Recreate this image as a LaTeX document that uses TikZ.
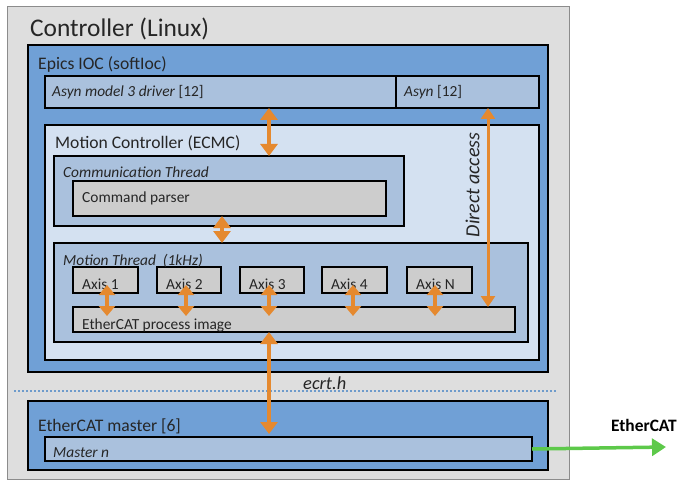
\documentclass[tikz,border=0pt]{standalone}
\usepackage{fontspec}
\setmainfont{Carlito}
\usetikzlibrary{arrows.meta,calc}
\definecolor{ctrlgray}{HTML}{DEDEDE}
\definecolor{ctrlborder}{HTML}{8C8C8C}
\definecolor{blueM}{HTML}{70A0D6}
\definecolor{blueL}{HTML}{AAC1DD}
\definecolor{blueXL}{HTML}{D4E1F1}
\definecolor{grayBox}{HTML}{CDCDCD}
\definecolor{arrOrange}{HTML}{E5892F}
\definecolor{arrGreen}{HTML}{5DC94A}
\definecolor{dotBlue}{HTML}{6E9BCB}
\newcommand\bxnode[7]{\node[bx,#2,minimum width={#5-#3},minimum height={#6-#4}] (#1) at (#3,#4) {#7};}
\tikzset{
  bx/.style={draw=black,line width=1.4pt,anchor=north west,inner sep=0pt,outer sep=0pt},
  lbl/.style={anchor=base west,inner sep=0pt,text=black!85},
  fbig/.style={font=\fontsize{17.6}{20}\selectfont},
  fsmall/.style={font=\fontsize{15.4}{18}\selectfont},
  obig/.style={draw=arrOrange,line width=4pt,{Triangle[width=17pt,length=12pt]}-{Triangle[width=17pt,length=12pt]}},
  osmall/.style={draw=arrOrange,line width=4pt,{Triangle[width=16pt,length=10pt]}-{Triangle[width=16pt,length=10pt]}},
  othin/.style={draw=arrOrange,line width=3pt,{Triangle[width=14pt,length=11pt]}-{Triangle[width=14pt,length=11pt]}},
}
\begin{document}
\begin{tikzpicture}[x=1pt,y=-1pt]
\useasboundingbox (0,0) rectangle (679,481);
\bxnode{ctrl}{fill=ctrlgray,draw=ctrlborder,line width=1pt}{7}{7}{569}{479}{}
\bxnode{epics}{fill=blueM}{28}{45}{548}{372}{}
\bxnode{asynthree}{fill=blueL}{45}{76}{396}{108}{}
\bxnode{asyn}{fill=blueL}{396}{76}{539}{108}{}
\bxnode{mc}{fill=blueXL}{45}{125}{539}{360}{}
\bxnode{comm}{fill=blueL}{54}{156}{404}{226}{}
\bxnode{cmdp}{fill=grayBox}{73}{181}{386}{216}{}
\bxnode{mt}{fill=blueL}{54}{243}{528}{342}{}
\bxnode{axa}{fill=grayBox}{73}{267}{138}{293}{}
\bxnode{axb}{fill=grayBox}{157}{267}{221}{293}{}
\bxnode{axc}{fill=grayBox}{240}{267}{304}{293}{}
\bxnode{axd}{fill=grayBox}{322}{267}{387}{293}{}
\bxnode{axn}{fill=grayBox}{407}{267}{472}{293}{}
\bxnode{epi}{fill=grayBox}{73}{307}{515}{332}{}
\bxnode{master}{fill=blueM}{28}{401}{548}{470}{}
\bxnode{mn}{fill=blueL}{45}{437}{532}{461}{}

\node[lbl,font=\fontsize{25.4}{28}\selectfont] (tctrl) at (30,37) {Controller (Linux)};
\node[lbl,fbig] (tepics) at (38,70) {Epics IOC (softIoc)};
\node[lbl,fsmall] (tasynthree) at (52,97) {\textit{Asyn model 3 driver} [12]};
\node[lbl,fsmall] (tasyn) at (404,97) {\textit{Asyn} [12]};
\node[lbl,fbig] (tmc) at (55,149) {Motion Controller (ECMC)};
\node[lbl,fsmall] (tcomm) at (63,177) {\itshape Communication Thread};
\node[lbl,fsmall] (tcmdp) at (82,202) {Command parser};
\node[lbl,fsmall] (tmt) at (63,265) {\itshape Motion Thread\ \ (1kHz)};
\foreach \n/\t in {axa/Axis 1,axb/Axis 2,axc/Axis 3,axd/Axis 4,axn/Axis N}
  \node[lbl,fsmall] (t\n) at ($(\n.south west)+(9,-4)$) {\t};
\node[lbl,fsmall] (tepi) at (82,329) {EtherCAT process image};
\node[lbl,fbig] (tmaster) at (38,431) {EtherCAT master [6]};
\node[lbl,fsmall] (tmn) at (53,457) {\itshape Master n};
\node[lbl,font=\fontsize{17.4}{20}\selectfont\bfseries,text=black] (tecat) at (611,431) {EtherCAT};
\node[font=\fontsize{20}{23}\selectfont\itshape,rotate=90,inner sep=0pt,text=black!85] (tdirect) at (472.5,185) {Direct access};

\coordinate (dl) at (14,391);
\coordinate (dr) at (557,391);
\draw[dotBlue,line width=1.6pt,dash pattern=on 1.6pt off 2.4pt] (dl) -- (dr);
\node[lbl,font=\fontsize{18.4}{21}\selectfont\itshape] (tecrt) at (303,389) {ecrt.h};

% arrows
\draw[obig] ($(asynthree.south west)+(224,0)$) -- ($(comm.north west)+(215,0)$);
\draw[obig] ($(cmdp.south west)+(149,0)$) -- ($(mt.north west)+(168,0)$);
\draw[othin] ($(asyn.south west)+(92,0)$) -- ($(epi.north west)+(415,0)$);
\foreach \n/\dx in {axa/1.5,axb/-3,axc/-3,axd/-1.5,axn/-4.5}
  \draw[osmall] ($(\n.south)+(\dx,-8)$) -- ($(\n.south)+(\dx,23)$);
\draw[obig] ($(epi.south west)+(196,0)$) -- ($(mn.north west)+(224,-3)$);
\coordinate (ecatend) at (666,447);
\draw[arrGreen,line width=3.5pt,-{Triangle[width=17pt,length=14pt]}] (mn.east) -- (ecatend);
\end{tikzpicture}
\end{document}
